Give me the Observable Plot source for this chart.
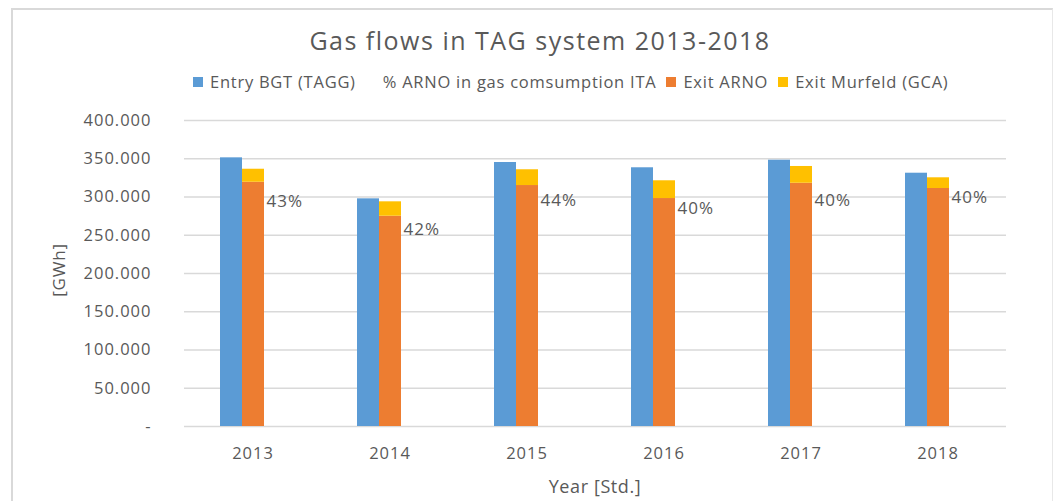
<!DOCTYPE html>
<html>
<head>
<meta charset="utf-8">
<script src="https://cdn.jsdelivr.net/npm/d3@7"></script>
<script src="https://cdn.jsdelivr.net/npm/@observablehq/plot@0.6"></script>
<style>
  body { margin: 0; background: #fff; font-family: "Open Sans", sans-serif; color: #595959; }
  #wrap { position: relative; width: 1053px; height: 501px; overflow: hidden; }
  #frame { position: absolute; left: 11px; top: 8px; width: 1039px; height: 500px;
           border-left: 2px solid #d9d9d9; border-top: 2px solid #d9d9d9; border-right: 1px solid #e8e8e8; }
  #title { position: absolute; top: 22px; left: 0; width: 1080px; text-align: center; font-size: 25px; line-height: 36px; letter-spacing: 1.5px; }
  #legend { position: absolute; top: 71px; left: 193px; display: flex; align-items: center; font-size: 16.5px; line-height: 22px; white-space: nowrap; letter-spacing: 0.75px; }
  .item { display: flex; align-items: center; margin-right: 10px; }
  .sw { width: 10px; height: 10px; margin-right: 7px; }
  #chart { position: absolute; top: 100px; left: 0; }
  #xlabel { position: absolute; top: 473px; left: 0; width: 1190px; text-align: center; font-size: 18px; line-height: 26px; letter-spacing: 0.6px; }
  #ylabel { position: absolute; left: 59px; top: 270px; width: 0; height: 0; }
  #ylabel span { position: absolute; left: 0; top: 0; transform: translate(-50%, -50%) rotate(-90deg); white-space: nowrap; font-size: 17px; line-height: 22px; letter-spacing: 0.8px; }
</style>
</head>
<body>
<div id="wrap">
  <div id="frame"></div>
  <div id="title"></div>
  <div id="legend"></div>
  <div id="chart"></div>
  <div id="xlabel"></div>
  <div id="ylabel"><span></span></div>
</div>
<script>
const titleText = "Gas flows in TAG system 2013-2018";
const years = ["2013", "2014", "2015", "2016", "2017", "2018"];
const entryBGT = [351200, 297600, 345100, 338200, 348100, 331100];
const exitARNO = [319300, 274900, 315000, 298000, 318000, 311100];
const exitMurfeld = [17000, 18800, 20600, 23200, 21900, 14000];
const pctARNO = ["43%", "42%", "44%", "40%", "40%", "40%"];
const pctLabelGWh = [294000, 257500, 295000, 285000, 295000, 299000];
const yTicks = [0, 50000, 100000, 150000, 200000, 250000, 300000, 350000, 400000];
const seriesNames = ["Entry BGT (TAGG)", "% ARNO in gas comsumption ITA", "Exit ARNO", "Exit Murfeld (GCA)"];
const seriesColors = ["#5b9bd5", "transparent", "#ed7d31", "#ffc000"];
const yLabel = "[GWh]";
const xLabel = "Year [Std.]";

document.getElementById("title").textContent = titleText;
document.getElementById("xlabel").textContent = xLabel;
document.querySelector("#ylabel span").textContent = yLabel;
const legend = document.getElementById("legend");
seriesNames.forEach((name, i) => {
  const it = document.createElement("div");
  it.className = "item";
  const sw = document.createElement("span");
  sw.className = "sw";
  sw.style.background = seriesColors[i];
  const tx = document.createElement("span");
  tx.textContent = name;
  it.appendChild(sw); it.appendChild(tx);
  legend.appendChild(it);
});

const rows = years.flatMap((yr, i) => [
  {year: yr, slot: "entry", series: seriesNames[0], value: entryBGT[i]},
  {year: yr, slot: "exit", series: seriesNames[2], value: exitARNO[i]},
  {year: yr, slot: "exit", series: seriesNames[3], value: exitMurfeld[i]}
]);
const labels = years.map((yr, i) => ({year: yr, slot: "pct", text: pctARNO[i], y: pctLabelGWh[i]}));

const locale = d3.formatLocale({decimal: ",", thousands: ".", grouping: [3], currency: ["", ""]});
const fmt = locale.format(",");

const chart = Plot.plot({
  width: 1053,
  height: 401,
  marginTop: 20,
  marginBottom: 75,
  marginLeft: 184,
  marginRight: 47,
  style: {fontFamily: "Open Sans, sans-serif", fontSize: "16.5px", color: "#595959", background: "transparent", overflow: "visible", letterSpacing: "1px"},
  fx: {domain: years, padding: 0, axis: "bottom", tickSize: 0, tickPadding: 21, label: null},
  x: {domain: ["entry", "exit", "pct"], paddingInner: 0, paddingOuter: 1.544, axis: null},
  y: {domain: [0, 400000], ticks: yTicks, tickFormat: d => d === 0 ? "-" : fmt(d), tickSize: 0, tickPadding: 33, label: null},
  color: {domain: seriesNames, range: seriesColors},
  marks: [
    Plot.ruleY(yTicks, {stroke: "#d9d9d9", strokeWidth: 1.3}),
    Plot.barY(rows, {fx: "year", x: "slot", y: "value", fill: "series"}),
    Plot.text(labels, {fx: "year", x: "slot", y: "y", text: "text", textAnchor: "start", dx: -9, fontSize: 17, fill: "#595959"})
  ]
});
document.getElementById("chart").appendChild(chart);
</script>
</body>
</html>
